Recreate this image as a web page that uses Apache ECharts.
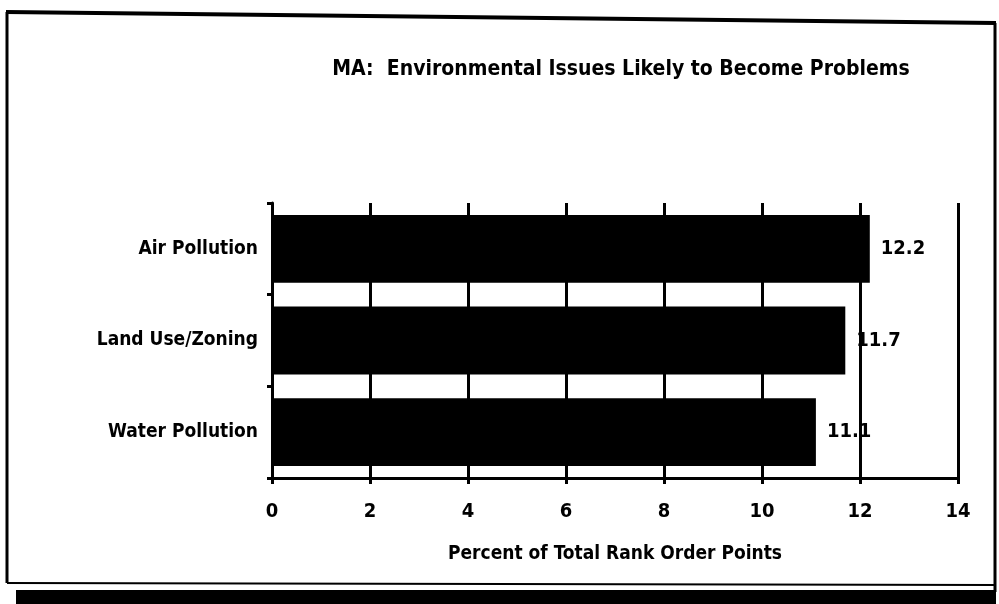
<!DOCTYPE html>
<html>
<head>
<meta charset="utf-8">
<script src="https://cdn.jsdelivr.net/npm/echarts@6/dist/echarts.min.js"></script>
<style>
  html, body { margin: 0; padding: 0; background: #fff; }
  #chart { width: 999px; height: 604px; }
</style>
</head>
<body>
<div id="chart"></div>
<script>
const categories = ['Air Pollution', 'Land Use/Zoning', 'Water Pollution'];
const values = [12.2, 11.7, 11.1];
const titleText = 'MA:  Environmental Issues Likely to Become Problems';
const axisName = 'Percent of Total Rank Order Points';

const font = "'Liberation Sans Narrow', 'DejaVu Sans Condensed', sans-serif";

const chart = echarts.init(document.getElementById('chart'), null, { renderer: 'canvas' });

chart.setOption({
    backgroundColor: '#fff',
    animation: false,
    title: {
        text: titleText,
        left: 616,
        top: 54,
        textAlign: 'center',
        textStyle: { fontFamily: font, fontWeight: 'bold', fontSize: 21, color: '#000' },
    },
    grid: { left: 272, right: 41, top: 203, bottom: 126 },
    xAxis: {
        type: 'value',
        min: 0,
        max: 14,
        interval: 2,
        name: axisName,
        nameLocation: 'middle',
        nameGap: 67,
        nameTextStyle: { fontFamily: font, fontWeight: 'bold', fontSize: 19, color: '#000' },
        axisLine: { show: true, lineStyle: { color: '#000', width: 3 } },
        axisTick: { show: true, length: 6, lineStyle: { color: '#000', width: 3 } },
        axisLabel: { fontFamily: font, fontWeight: 'bold', fontSize: 20, color: '#000', margin: 24 },
        splitLine: { show: true, lineStyle: { color: '#000', width: 3 } },
    },
    yAxis: {
        type: 'category',
        data: categories,
        inverse: true,
        axisLine: { show: true, lineStyle: { color: '#000', width: 3 } },
        axisTick: { show: true, length: 5, lineStyle: { color: '#000', width: 3 } },
        axisLabel: { fontFamily: font, fontWeight: 'bold', fontSize: 19, color: '#000', margin: 14 },
    },
    series: [{
        type: 'bar',
        data: values,
        barCategoryGap: '26%',
        itemStyle: { color: '#000' },
        label: {
            show: true,
            position: 'right',
            distance: 11,
            fontFamily: font,
            fontWeight: 'bold',
            fontSize: 20,
            color: '#000',
        },
    }],
    graphic: [
        { type: 'polyline', shape: { points: [[6, 12], [996, 23]] }, style: { stroke: '#000', lineWidth: 4 } },
        { type: 'line', shape: { x1: 7, y1: 12, x2: 7, y2: 583 }, style: { stroke: '#000', lineWidth: 3 } },
        { type: 'line', shape: { x1: 995, y1: 23, x2: 995, y2: 592 }, style: { stroke: '#000', lineWidth: 3 } },
        { type: 'line', shape: { x1: 7, y1: 583, x2: 995, y2: 585 }, style: { stroke: '#000', lineWidth: 2 } },
        { type: 'rect', shape: { x: 16, y: 590, width: 980, height: 14 }, style: { fill: '#000' } },
    ],
});
</script>
</body>
</html>
